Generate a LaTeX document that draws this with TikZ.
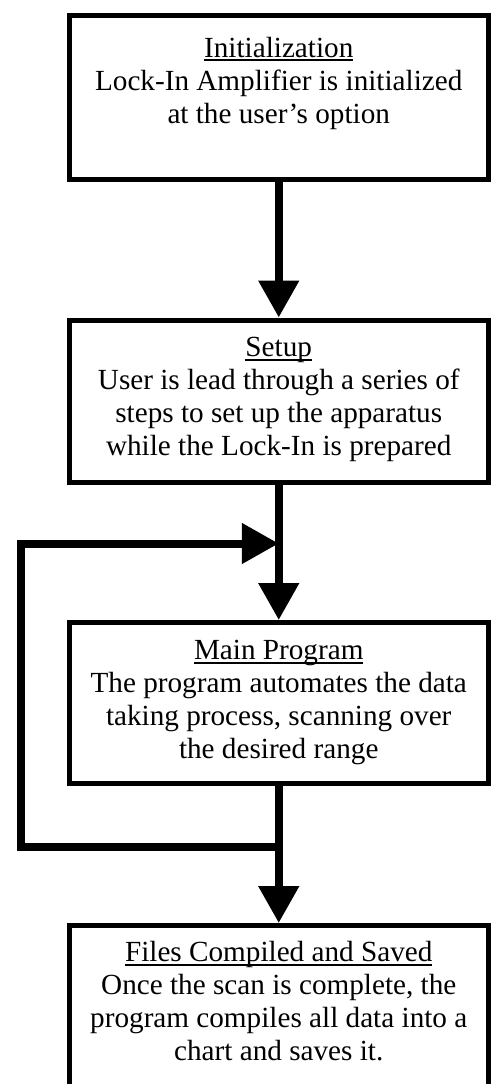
\documentclass[tikz,border=0pt]{standalone}
\usepackage{fontspec}
\setmainfont{Liberation Serif}
\usetikzlibrary{arrows.meta}

% box text: height, first line strut, lines
\newcommand{\boxtext}[3]{\parbox[c][#1][t]{419.5pt}{\centering\rule{0pt}{#2}#3}}
\newcommand{\stagetitle}[1]{\setbox0=\hbox{#1}\rlap{\rule[-4pt]{\wd0}{1.8pt}}\box0}

\begin{document}
\begin{tikzpicture}[
  x=1pt, y=-1pt,
  >={Triangle[length=37pt, width=39pt]},
  stage/.style={draw, line width=5pt, inner sep=0pt, font=\fontsize{29.2}{33}\selectfont},
  flow/.style={line width=8pt}
]
  \useasboundingbox (0,0) rectangle (491,1084);
  \node[stage] (init) at (278.75, 97) {\boxtext{164pt}{42pt}{\stagetitle{Initialization}\\
    Lock-In Amplifier is initialized\\ at the user’s option}};
  \node[stage] (setup) at (278.75, 401.25) {\boxtext{162.5pt}{36.5pt}{\stagetitle{Setup}\\
    User is lead through a series of\\ steps to set up the apparatus\\ while the Lock-In is prepared}};
  \node[stage] (mainprog) at (278.75, 703) {\boxtext{161pt}{37pt}{\stagetitle{Main Program}\\
    The program automates the data\\ taking process, scanning over\\ the desired range}};
  \node[stage] (saving) at (278.75, 1007) {\boxtext{163pt}{36pt}{\stagetitle{Files Compiled and Saved}\\
    Once the scan is complete, the\\ program compiles all data into a\\ chart and saves it.}};

  \coordinate (merge) at (278.75, 543.5);
  \coordinate (split) at (278.75, 847);
  \coordinate (corner) at (20.5, 543.5);

  \draw[flow, ->] (init) -- (setup);
  \draw[flow, ->] (setup) -- (mainprog);
  \draw[flow, ->] (mainprog) -- (saving);
  \draw[flow, ->] (split) -| (corner) -- (merge);
\end{tikzpicture}
\end{document}
